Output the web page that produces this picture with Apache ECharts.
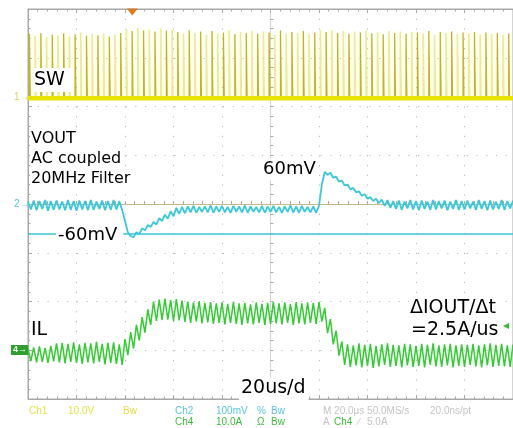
<!DOCTYPE html>
<html><head><meta charset="utf-8">
<script src="https://cdn.jsdelivr.net/npm/echarts@6/dist/echarts.min.js"></script>
<style>html,body{margin:0;padding:0;background:#fff}#c{width:513px;height:428px}</style>
</head><body><div id="c"></div>
<script>
// ---- data ----
const timeSpanUs = 200;          // 10 div x 20 us/div
const halfPeriodUs = 200 / 170;  // sample spacing (half switching period)
const swBaseV = 0;
// SW pulse tops (V), one per switching cycle
const swHeightsV = [
  13.2,12.8,13.4,12.6,13.0,12.9,13.3,12.7,13.1,13.5,12.8,13.2,12.9,13.3,12.6,13.0,13.4,
  14.2,13.8,14.4,13.9,14.1,13.7,14.3,13.9,14.0,
  13.6,13.2,13.9,13.4,13.7,13.0,13.8,13.3,13.5,13.9,13.1,13.6,13.4,13.8,13.2,13.7,13.5,13.0,13.9,13.3,13.6,13.4,13.8,13.1,13.5,
  14.0,13.6,13.9,13.4,13.8,13.2,13.7,13.5,13.9,13.3,13.6,13.1,13.8,13.4,13.7,13.2,13.6,13.5,13.3,13.8,13.0,13.6,13.4,13.7,13.2,13.5,13.3,13.6,13.1,13.5,13.2,13.4,13.0,13.3
];
// inductor current IL (A), sampled every half period
const ilValuesA = [
  0.2,-2.2,0.6,-2.5,0.8,-2.4,0.5,-2.6,0.9,-2.3,1.4,-2.5,1.5,-2.7,1.3,-2.4,1.6,-2.6,1.2,-2.8,1.5,-2.5,1.4,-2.7,1.7,-2.4,1.3,-2.9,1.5,-2.6,1.6,-2.8,1.2,-3.0,
  2.3,-1.0,3.7,0.4,5.2,2.0,6.8,3.6,8.4,5.2,10.0,
  6.0,10.4,6.2,10.6,6.3,10.3,6.0,10.5,6.1,10.2,5.8,10.0,5.6,9.8,5.9,10.1,5.5,9.7,5.7,9.9,5.4,9.6,5.6,9.8,5.3,9.5,5.6,9.9,5.4,9.6,
  5.2,9.7,5.5,9.4,5.3,9.8,5.6,9.5,5.2,9.7,5.4,9.9,5.5,9.6,5.3,9.8,5.6,9.5,5.2,9.9,5.5,9.6,5.3,9.8,5.6,9.7,5.4,9.9,
  5.9,8.7,3.5,6.4,1.2,4.0,-1.1,1.8,
  -3.0,1.2,-3.4,1.0,-3.1,1.4,-3.5,1.1,-3.2,1.3,-3.6,0.9,-3.3,1.2,-3.0,1.4,-3.4,1.1,-3.2,1.0,-3.5,1.3,-3.1,1.2,-3.4,0.9,-3.2,1.3,-3.5,1.1,
  -3.0,1.4,-3.3,1.0,-3.4,1.2,-3.1,1.3,-3.5,1.0,-3.2,1.2,-3.4,1.1,-3.0,1.3,-3.3,1.0,-3.5,1.2,-3.1,1.4,-3.4,1.1,-3.2,1.3,-3.3,1.0,-3.4,1.2
];
// VOUT, AC coupled (mV), sampled every half period
const voutValuesMv = [
  5,-11,7,-13,6,-10,8,-14,6,-12,7,-11,5,-13,8,-12,6,-14,7,-11,6,-13,8,-12,5,-10,7,-13,6,-12,8,-11,6,-12,
  -35,-58,-66,-68,-58,-62,-50,-54,-43,-47,-37,-42,-29,-35,-22,-30,-15,-25,-8,-20,-6,-19,
  -5,-17,-4,-18,-6,-16,-5,-17,-3,-18,-5,-16,-4,-17,-6,-18,-4,-16,-5,-17,-3,-18,-5,-16,-6,-17,-4,-18,-5,-16,-4,-17,-6,-18,-5,-16,-3,-17,-5,-18,-4,-16,-6,-17,-5,-18,-4,
  40,66,60,64,54,56,46,48,38,40,30,33,24,26,17,20,11,14,6,11,2,9,-4,8,-8,
  6,-10,7,-12,5,-9,8,-11,6,-13,7,-10,5,-12,8,-11,6,-9,7,-13,5,-10,8,-12,6,-11,7,-9,5,-12,8,-10,6,-13,7,-11,5,-10,8,-12,6,-9,7
];
const voutCursorMv = [-60];
const voutRefMv = [0];
const triggerTimeUs = 43;
const triggerLevelA = 5;

// ---- build series data ----
const pulseWidthUs = 0.35;
function pulses(parity) {
  const d = [];
  swHeightsV.forEach((h, i) => {
    if (i % 2 !== parity) return;
    const t = (2 * i + 0.5) * halfPeriodUs;
    d.push([t, swBaseV], [t, h], [t + pulseWidthUs, h], [t + pulseWidthUs, swBaseV]);
  });
  return d;
}
const ilData = ilValuesA.map((v, k) => [k * halfPeriodUs, v]);
const voutData = voutValuesMv.map((v, k) => [k * halfPeriodUs, v]);
const swBaseData = [[0, swBaseV], [timeSpanUs, swBaseV]];

const GC = '#a8a8a8';
const tickCfg = {show: true, inside: true, length: 4, lineStyle: {color: GC}};
const minorCfg = {show: true, splitNumber: 5, length: 2.5, lineStyle: {color: GC}};
const FONT = '"DejaVu Sans", sans-serif';

function lbl(text, x, y, size, pad, extra) {
  return Object.assign({
    type: 'text', x: x, y: y, z: 100,
    style: {text: text, fill: '#000', font: size + 'px ' + FONT, align: 'left', verticalAlign: 'middle',
      backgroundColor: '#fff', padding: pad}
  }, extra || {});
}
function small(text, x, y, color) {
  return {type: 'text', x: x, y: y, z: 100,
    style: {text: text, fill: color, font: '10px "Liberation Sans", sans-serif', align: 'left', verticalAlign: 'middle'}};
}

const chart = echarts.init(document.getElementById('c'), null, {renderer: 'canvas'});
chart.setOption({
  animation: false,
  backgroundColor: '#fff',
  grid: {left: 28, top: 9, width: 490, height: 390, show: true, borderColor: GC, borderWidth: 1, backgroundColor: '#fff'},
  xAxis: [
    {type: 'value', min: 0, max: timeSpanUs, interval: 20, position: 'bottom',
      axisLine: {show: true, onZero: false, lineStyle: {color: GC}}, axisTick: tickCfg, minorTick: minorCfg,
      axisLabel: {show: false}, splitLine: {show: true, lineStyle: {color: '#b8b8b8', type: [1.2, 8.55]}}},
    {type: 'value', min: 0, max: timeSpanUs, interval: 20, position: 'top',
      axisLine: {show: true, onZero: false, lineStyle: {color: GC}}, axisTick: tickCfg, minorTick: minorCfg,
      axisLabel: {show: false}, splitLine: {show: false}},
    {type: 'value', min: 0, max: timeSpanUs, interval: 20, position: 'bottom',
      axisLine: {show: true, onZero: true, onZeroAxisIndex: 2, lineStyle: {color: '#d4d4d4'}},
      axisTick: {show: true, inside: true, length: 3, lineStyle: {color: GC}},
      minorTick: {show: true, splitNumber: 5, length: 3, lineStyle: {color: GC}},
      axisLabel: {show: false}, splitLine: {show: false}},
    {type: 'value', min: -100, max: 100, show: false}
  ],
  yAxis: [
    {type: 'value', min: 0, max: 8, interval: 1, position: 'left',
      axisLine: {show: true, onZero: false, lineStyle: {color: GC}}, axisTick: tickCfg, minorTick: minorCfg,
      axisLabel: {show: false}, splitLine: {show: true, lineStyle: {color: '#b8b8b8', type: [1.2, 8.55]}}},
    {type: 'value', min: -61.7, max: 18.3, show: false},
    {type: 'value', min: -400, max: 400, show: false},
    {type: 'value', min: -10, max: 70, show: false},
    {type: 'value', min: 0, max: 8, interval: 1, position: 'left',
      axisLine: {show: true, onZero: true, onZeroAxisIndex: 3, lineStyle: {color: '#d4d4d4'}},
      axisTick: {show: true, inside: true, length: 3, lineStyle: {color: GC}},
      minorTick: {show: true, splitNumber: 5, length: 3, lineStyle: {color: GC}},
      axisLabel: {show: false}, splitLine: {show: false}}
  ],
  series: [
    {type: 'line', name: 'cursors', xAxisIndex: 0, yAxisIndex: 2, data: [], z: 1, silent: true,
      markLine: {silent: true, symbol: ['none', 'none'], label: {show: false}, animation: false,
        data: voutCursorMv.map(v => ({yAxis: v, lineStyle: {color: '#3fc4d2', width: 1.5, type: 'solid'}}))
          .concat(voutRefMv.map(v => ({yAxis: v, lineStyle: {color: '#c9b88e', width: 1, type: 'solid'}})))}},
    {type: 'line', name: 'SW light', xAxisIndex: 0, yAxisIndex: 1, data: pulses(1), showSymbol: false, z: 2,
      lineStyle: {color: '#eeee88', width: 1.7}},
    {type: 'line', name: 'SW dark', xAxisIndex: 0, yAxisIndex: 1, data: pulses(0), showSymbol: false, z: 3,
      lineStyle: {color: '#c2ba08', width: 1.3}},
    {type: 'line', name: 'SW base', xAxisIndex: 0, yAxisIndex: 1, data: swBaseData, showSymbol: false, z: 4,
      lineStyle: {color: '#e8e400', width: 4.5}},
    {type: 'line', name: 'VOUT', xAxisIndex: 0, yAxisIndex: 2, data: voutData, showSymbol: false, z: 5,
      lineStyle: {color: '#38c8d8', width: 1.8}},
    {type: 'line', name: 'IL', xAxisIndex: 0, yAxisIndex: 3, data: ilData, showSymbol: false, z: 6,
      lineStyle: {color: '#33cc33', width: 1.5},
      markPoint: {silent: true, label: {show: false}, animation: false,
        data: [
          {coord: [triggerTimeUs, 70], symbol: 'triangle', symbolRotate: 180, symbolSize: [11, 7], symbolOffset: [0, 3],
            itemStyle: {color: '#e07a22'}},
          {coord: [timeSpanUs, triggerLevelA], symbol: 'triangle', symbolRotate: 90, symbolSize: [6, 6], symbolOffset: [-7, 0],
            itemStyle: {color: '#33bb33'}}
        ]}}
  ],
  graphic: [
    lbl('SW', 33, 80, 19, [3, 8, 2, 1]),
    lbl('VOUT', 30, 139, 16, [1, 2, 1, 1]),
    lbl('AC coupled', 30, 158.5, 16, [1, 2, 1, 1]),
    lbl('20MHz Filter', 30, 178.5, 16, [1, 2, 1, 1]),
    lbl('-60mV', 56, 235, 18, [3, 6, 3, 2]),
    lbl('60mV', 262, 169.5, 18, [2, 3, 2, 1]),
    lbl('IL', 30, 330, 19, [2, 4, 2, 1]),
    lbl('ΔIOUT/Δt', 409, 308.5, 19, [2, 2, 2, 1]),
    lbl('=2.5A/us', 410, 330, 19, [2, 2, 2, 1]),
    lbl('20us/d', 239, 388.5, 19, [2, 3, 2, 2]),
    small('1', 14, 97.5, '#d4d460'), small('→', 20, 97.5, '#d4d460'),
    small('2', 14, 204, '#5cc8d4'), small('→', 20, 204, '#5cc8d4'),
    {type: 'rect', shape: {x: 11, y: 345, width: 17, height: 10}, style: {fill: '#2fa02f'}, z: 100},
    {type: 'text', x: 13, y: 350, z: 101, style: {text: '4→', fill: '#e8ffe8', font: 'bold 9px "Liberation Sans", sans-serif', verticalAlign: 'middle'}},
    small('Ch1', 29, 411.5, '#e2e24a'), small('10.0V', 68, 411.5, '#e2e24a'), small('Bw', 123, 411.5, '#e2e24a'),
    small('Ch2', 175, 411.5, '#58c4de'), small('100mV', 216, 411.5, '#58c4de'), small('%', 257, 411.5, '#58c4de'), small('Bw', 271, 411.5, '#58c4de'),
    small('Ch4', 175, 422.5, '#3cbc3c'), small('10.0A', 216, 422.5, '#3cbc3c'), small('Ω', 257, 422.5, '#3cbc3c'), small('Bw', 271, 422.5, '#3cbc3c'),
    small('M 20.0µs 50.0MS/s', 323, 411.5, '#c4c4c4'), small('20.0ns/pt', 430, 411.5, '#c4c4c4'),
    small('A', 323, 422.5, '#c4c4c4'), small('Ch4', 334, 422.5, '#3cbc3c'), small('∕', 358, 422.5, '#c4c4c4'), small('5.0A', 367, 422.5, '#c4c4c4')
  ]
});
</script></body></html>
